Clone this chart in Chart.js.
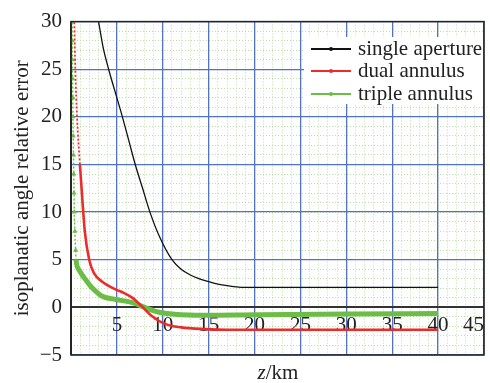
<!DOCTYPE html>
<html>
<head>
<meta charset="utf-8">
<script src="https://cdn.jsdelivr.net/npm/chart.js@4"></script>
<style>
  html, body { margin: 0; padding: 0; background: #fff; }
  #caixa { position: relative; width: 490px; height: 383px; font-family: "Liberation Serif", "Times New Roman", serif; }
  #grafico { position: absolute; left: 0; top: 0; }
  #legenda { position: absolute; left: 304px; top: 37px; width: 179px; height: 67px; background: #fff; }
  .item { position: absolute; left: 0; height: 22px; width: 179px; }
  .traco { position: absolute; left: 7px; width: 40px; top: 10px; height: 0; border-top: 2px solid #000; }
  .ponto { position: absolute; left: 25px; top: 9px; width: 4px; height: 4px; border-radius: 2px; }
  .nome { position: absolute; left: 54px; top: -2px; font-size: 21px; color: #222; white-space: nowrap; line-height: 24px; }
  #eixo-z { position: absolute; left: 228px; width: 100px; top: 360px; text-align: center; font-size: 21px; color: #222; line-height: 24px; }
</style>
</head>
<body>
<div id="caixa">
  <canvas id="grafico" width="490" height="383"></canvas>
  <div id="legenda"></div>
  <div id="eixo-z"><i>z</i>/km</div>
</div>
<script>
// ==================== DADOS ====================
const nomesSeries = ['single aperture', 'dual annulus', 'triple annulus'];
const coresSeries = ['#111111', '#ee2b2b', '#6cbd45'];

// single aperture
const zSimples   = [2.6, 3.0, 3.5, 4.1, 5.0, 5.6, 6.3, 7.0, 7.8, 8.6, 9.7, 11.0, 12.0, 13.0, 14.0, 15.0, 16.0, 17.0, 18.0, 19.0, 25.0, 40.0];
const errSimples = [32, 30, 27.3, 25, 22, 20, 17.5, 15, 12.5, 10, 7.3, 5.0, 4.0, 3.4, 3.0, 2.7, 2.45, 2.28, 2.16, 2.1, 2.1, 2.1];

// dual annulus
const zDuplo   = [0.30, 0.36, 0.47, 0.66, 0.97, 1.26, 1.50, 1.98, 2.5, 3.4, 4.9, 5.8, 6.7, 7.7, 8.8, 10.3, 12.0, 14.6, 17.0, 25.0, 40.0];
const errDuplo = [32, 30, 25, 20, 15, 11, 8, 5.0, 3.6, 2.7, 1.87, 1.5, 1.0, 0.13, -0.9, -1.76, -2.1, -2.28, -2.35, -2.35, -2.35];

// triple annulus
const zTriplo   = [0.10, 0.12, 0.13, 0.15, 0.17, 0.19, 0.21, 0.24, 0.27, 0.30, 0.33, 0.36, 0.42, 0.50, 0.55, 0.9, 1.6, 2.3, 3.4, 4.9, 6.7, 8.1, 9.5, 11.3, 14.6, 20.0, 30.0, 40.0];
const errTriplo = [32, 30, 28, 26, 24, 22, 20, 18, 16, 14, 12, 10, 8, 6, 5.0, 3.9, 2.9, 2.05, 1.17, 0.83, 0.49, -0.03, -0.49, -0.73, -0.83, -0.78, -0.70, -0.65];

// eixos
const limitesZ = [0, 45];
const limitesErro = [-5, 30];
const passoMaior = 5;
const passoMenor = 1;

function juntar(zs, es) {
    return zs.map((z, i) => ({ x: z, y: es[i] }));
}

// --- grade: linhas principais azuis, secundárias verdes pontilhadas ---
const corMaior = '#5273bd';
const corMenor = '#bddfa6';

const gradeMaior = { color: c => c.tick.value === 0 ? '#333333' : corMaior, lineWidth: c => c.tick.value === 0 ? 2 : 1.3, drawTicks: false };
const gradeMenor = { color: corMenor, lineWidth: 1, drawTicks: false };

// moldura preta em volta da área do gráfico
const moldura = {
    id: 'moldura',
    afterDatasetsDraw(chart) {
        const a = chart.chartArea;
        const c = chart.ctx;
        c.save();
        c.strokeStyle = '#222';
        c.lineWidth = 1.5;
        c.strokeRect(a.left, a.top, a.right - a.left, a.bottom - a.top);
        c.restore();
    }
};

const fonte = { family: '"Liberation Serif", "Times New Roman", serif', size: 21 };

const ctx = document.getElementById('grafico').getContext('2d');
new Chart(ctx, {
    type: 'line',
    data: {
        datasets: [{
            label: nomesSeries[0],
            data: juntar(zSimples, errSimples),
            borderColor: coresSeries[0],
            borderWidth: 1.3,
            pointRadius: 0,
            cubicInterpolationMode: 'monotone',
            order: 1
        }, {
            label: nomesSeries[1],
            data: juntar(zDuplo, errDuplo),
            borderColor: coresSeries[1],
            borderWidth: 2.6,
            pointRadius: 0,
            cubicInterpolationMode: 'monotone',
            // trecho íngreme pontilhado
            segment: {
                borderDash: c => c.p0.parsed.y > 15 ? [2, 2] : undefined,
                borderWidth: c => c.p0.parsed.y > 15 ? 1.8 : undefined
            },
            order: 0
        }, {
            label: nomesSeries[2],
            data: juntar(zTriplo, errTriplo),
            borderColor: coresSeries[2],
            backgroundColor: coresSeries[2],
            borderWidth: 5,
            pointStyle: 'triangle',
            pointRadius: c => (c.raw && c.raw.y > 5.5) ? 3 : 0,
            pointBorderWidth: 0,
            cubicInterpolationMode: 'monotone',
            segment: {
                borderDash: c => c.p0.parsed.y > 5.5 ? [2, 2] : undefined,
                borderWidth: c => c.p0.parsed.y > 5.5 ? 1.5 : undefined
            },
            order: 2
        }]
    },
    options: {
        responsive: false,
        animation: false,
        layout: { padding: { top: 19, right: 4, bottom: 28, left: 0 } },
        plugins: { legend: { display: false }, tooltip: { enabled: false } },
        scales: {
            // grade secundária (sem rótulos)
            xMenor: {
                type: 'linear', position: { y: 0 }, z: -1,
                min: limitesZ[0], max: limitesZ[1],
                grid: gradeMenor,
                border: { display: false, dash: [1, 2] },
                ticks: { display: false, stepSize: passoMenor, autoSkip: false }
            },
            yMenor: {
                type: 'linear', position: { x: 0 }, z: -1,
                min: limitesErro[0], max: limitesErro[1],
                grid: gradeMenor,
                border: { display: false, dash: [1, 2] },
                ticks: { display: false, stepSize: passoMenor, autoSkip: false }
            },
            x: {
                type: 'linear',
                position: { y: 0 },
                min: limitesZ[0], max: limitesZ[1],
                grid: gradeMaior,
                border: { display: false },
                ticks: {
                    stepSize: passoMaior, autoSkip: false, maxRotation: 0, align: 'inner',
                    padding: 6, color: '#222', font: fonte,
                    callback: v => v !== 0 ? String(v) : ''
                }
            },
            y: {
                type: 'linear',
                min: limitesErro[0], max: limitesErro[1],
                afterFit: s => { s.width = 71; },
                grid: gradeMaior,
                border: { display: false },
                title: {
                    display: true, text: 'isoplanatic angle relative error',
                    color: '#222', font: fonte, padding: { top: 10, bottom: 0 }
                },
                ticks: {
                    stepSize: passoMaior, autoSkip: false, padding: 9, color: '#222', font: fonte,
                    callback: v => String(v).replace('-', '\u2212')
                }
            }
        }
    },
    plugins: [moldura]
});

// --- legenda ---
const legenda = document.getElementById('legenda');
const topos = [0, 22, 45];
nomesSeries.forEach((nome, i) => {
    const item = document.createElement('div');
    item.className = 'item';
    item.style.top = (topos[i] + 0.5) + 'px';
    item.innerHTML = '<div class="traco" style="border-top-color:' + coresSeries[i] + '"></div>' +
        '<div class="ponto" style="background:' + coresSeries[i] + '"></div>' +
        '<div class="nome">' + nome + '</div>';
    legenda.appendChild(item);
});
</script>
</body>
</html>
